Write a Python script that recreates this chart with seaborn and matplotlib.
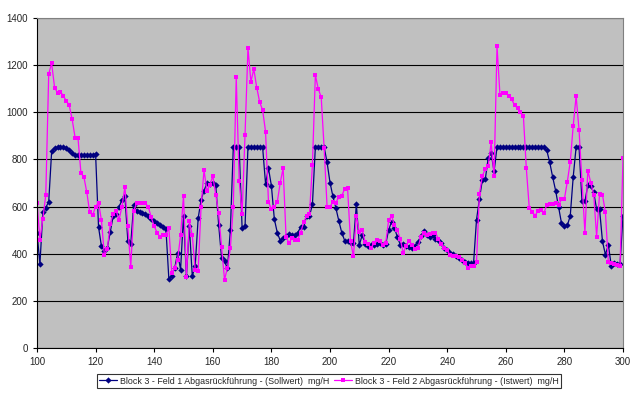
import numpy as np
import pandas as pd
import matplotlib
matplotlib.use("Agg")
import matplotlib.pyplot as plt
import seaborn as sns

# x positions (category index shown on the axis)
x_start = 100
x_end = 300

# Block 3 - Feld 1 (Sollwert), one per x step
soll = [
    490, 356, 577, 596, 620, 835, 850, 851, 851, 851,   # 100-109
    848, 838, 826, 820, 819, 819, 819, 819, 819, 819,   # 110-119
    822, 513, 431, 412, 425, 493, 560, 570, 598, 629,   # 120-129
    643, 456, 442, 608, 582, 575, 572, 569, 558, 547,   # 130-139
    537, 530, 522, 514, 506, 293, 307, 339, 403, 332,   # 140-149
    561, 304, 516, 304, 350, 550, 629, 667, 700, 697,   # 150-159
    702, 690, 523, 382, 367, 339, 502, 852, 852, 852,   # 160-169
    509, 516, 852, 852, 852, 852, 852, 852, 697, 763,   # 170-179
    688, 547, 490, 456, 466, 476, 483, 480, 478, 490,   # 180-189
    513, 513, 558, 560, 609, 852, 852, 852, 852, 788,   # 190-199
    702, 643, 594, 540, 490, 456, 452, 445, 445, 611,   # 200-209
    435, 481, 442, 431, 438, 438, 442, 445, 438, 440,   # 210-219
    500, 535, 510, 470, 438, 442, 431, 430, 424, 434,   # 220-229
    450, 475, 495, 480, 473, 481, 462, 459, 445, 424,   # 230-239
    414, 403, 397, 389, 380, 372, 365, 361, 361, 361,   # 240-249
    544, 632, 714, 716, 806, 827, 749, 852, 852, 852,   # 250-259
    852, 852, 852, 852, 852, 852, 852, 852, 852, 852,   # 260-269
    852, 852, 852, 852, 838, 787, 725, 668, 600, 530,   # 270-279
    516, 520, 561, 725, 852, 852, 622, 622, 692, 688,   # 280-289
    660, 589, 589, 452, 396, 438, 349, 361, 358, 358,   # 290-299
    560,                                                # 300
]

# Block 3 - Feld 2 (Istwert)
ist = [
    617, 459, 548, 650, 1163, 1208, 1105, 1083, 1088, 1069,   # 100-109
    1049, 1030, 970, 893, 890, 742, 726, 660, 575, 563,      # 110-119
    600, 617, 541, 393, 420, 527, 569, 583, 544, 600,        # 120-129
    683, 516, 344, 580, 615, 615, 615, 615, 598, 554,        # 130-139
    516, 490, 470, 481, 481, 509, 318, 339, 375, 478,        # 140-149
    646, 303, 537, 478, 332, 328, 600, 754, 668, 690,        # 150-159
    730, 650, 572, 428, 290, 340, 424, 600, 1149, 709,       # 160-169
    569, 904, 1272, 1130, 1183, 1105, 1043, 1010, 918, 620,  # 170-179
    589, 600, 619, 700, 763, 473, 445, 466, 459, 460,        # 180-189
    490, 533, 561, 570, 777, 1158, 1099, 1064, 848, 600,     # 190-199
    598, 621, 617, 640, 645, 675, 678, 452, 389, 562,        # 200-209
    492, 500, 448, 442, 424, 445, 460, 452, 436, 445,        # 210-219
    541, 561, 520, 500, 462, 403, 434, 455, 438, 420,        # 220-229
    425, 471, 490, 481, 483, 488, 490, 462, 442, 424,        # 230-239
    414, 395, 389, 389, 386, 375, 361, 339, 349, 349,        # 240-249
    363, 654, 730, 759, 773, 872, 730, 1281, 1075, 1083,     # 250-259
    1081, 1069, 1055, 1030, 1017, 1003, 985, 763, 596, 579,  # 260-269
    561, 583, 586, 572, 608, 611, 612, 615, 605, 632,        # 270-279
    632, 706, 790, 942, 1069, 925, 711, 490, 753, 702,       # 280-289
    650, 473, 654, 650, 575, 363, 361, 358, 353, 346,        # 290-299
    805,                                                     # 300
]

label_soll = "Block 3 - Feld 1 Abgasrückführung - (Sollwert)  mg/H"
label_ist = "Block 3 - Feld 2 Abgasrückführung - (Istwert)  mg/H"

x = np.arange(x_start, x_end + 1)
df = pd.DataFrame({"x": x, "soll": soll, "ist": ist})

sns.set_style("ticks")
plt.rcParams["font.family"] = ["Liberation Sans", "DejaVu Sans"]

fig = plt.figure(figsize=(6.4, 3.97), dpi=100)
ax = fig.add_axes([37 / 640, 49 / 397, 586 / 640, 330 / 397])
ax.set_facecolor("#C0C0C0")

sns.lineplot(data=df, x="x", y="soll", ax=ax, color="#000080", linewidth=0.9,
             marker="D", markersize=3.2, markeredgewidth=0, label=label_soll)
sns.lineplot(data=df, x="x", y="ist", ax=ax, color="#FF00FF", linewidth=0.9,
             marker="s", markersize=3.5, markeredgewidth=0, label=label_ist)

ax.set_xlim(100, 300)
ax.set_ylim(0, 1400)
ax.set_xticks(range(100, 301, 20))
ax.set_yticks(range(0, 1401, 200))
ax.yaxis.grid(True, color="black", linewidth=0.8)
ax.set_axisbelow(True)
ax.set_xlabel("")
ax.set_ylabel("")
ax.tick_params(labelsize=7, length=3, width=0.8, color="black")
for side in ["top", "right"]:
    ax.spines[side].set_visible(True)
    ax.spines[side].set_color("#808080")
for side in ["left", "bottom"]:
    ax.spines[side].set_color("black")
    ax.spines[side].set_linewidth(0.8)

ax.get_legend().remove()
handles, labels = ax.get_legend_handles_labels()
leg = fig.legend(handles, labels, loc="center", bbox_to_anchor=(329 / 640, 16 / 397),
                 ncol=2, fontsize=6.4, frameon=True, fancybox=False, edgecolor="black",
                 handlelength=2.0, handletextpad=0.3, columnspacing=0.6,
                 borderpad=0.3, borderaxespad=0)
leg.get_frame().set_linewidth(0.8)

fig.savefig("out.png", dpi=100, facecolor="white")
